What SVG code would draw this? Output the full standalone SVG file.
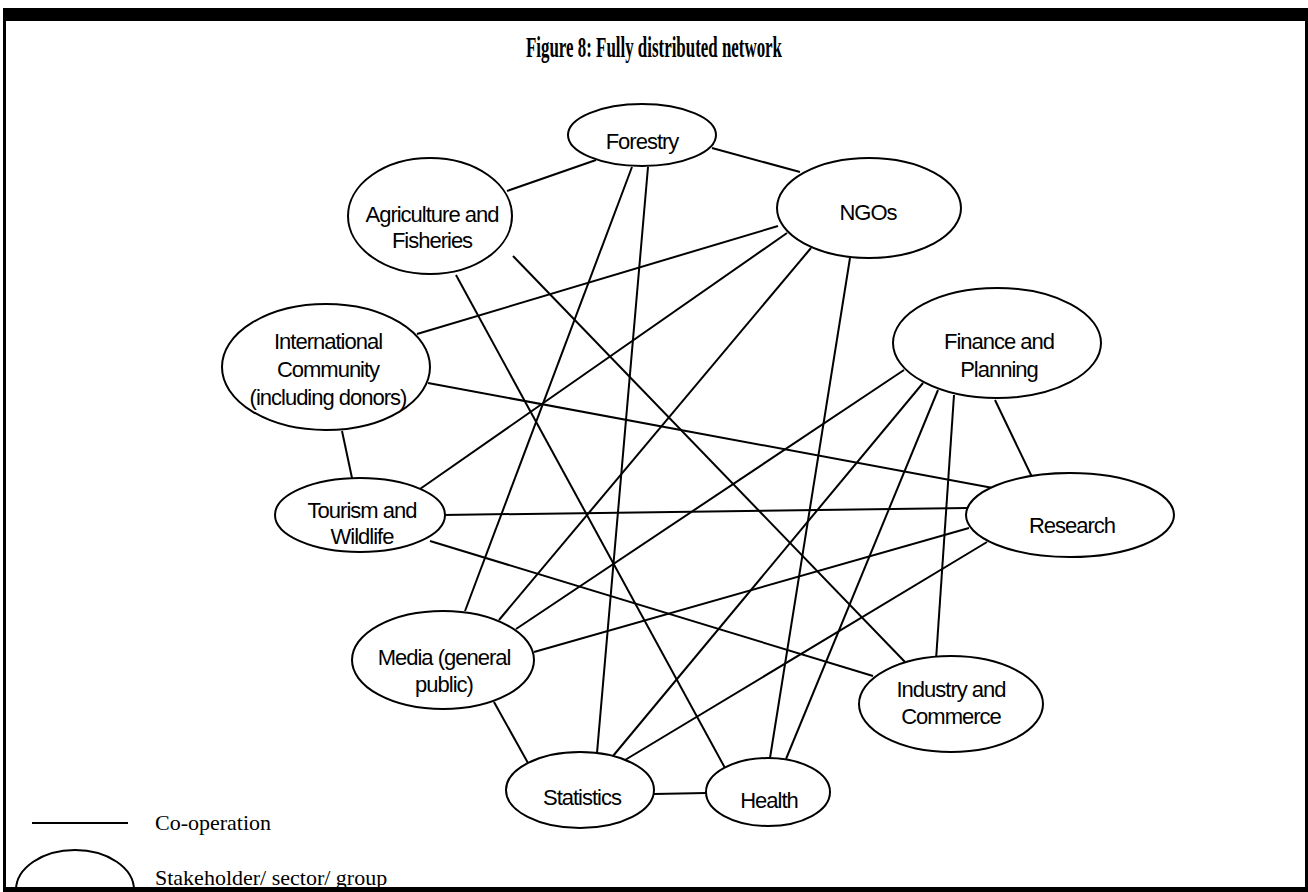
<svg xmlns="http://www.w3.org/2000/svg" width="1308" height="892" viewBox="0 0 1308 892">
<style>
.node ellipse{fill:#fff;stroke:#000;stroke-width:2}
.node text{font-family:"Liberation Sans",Arial,sans-serif;font-size:22px;letter-spacing:-1px;text-anchor:middle;fill:#000}
#connectors line{stroke:#000;stroke-width:2}
.legend{font-family:"Liberation Serif","Times New Roman",serif;font-size:22px;fill:#000}
</style>
<rect x="0" y="0" width="1308" height="892" fill="#fff"/>
<text x="654" y="57" text-anchor="middle" textLength="256" lengthAdjust="spacingAndGlyphs" style="font-family:'Liberation Serif','Times New Roman',serif;font-size:29px;font-weight:bold">Figure 8: Fully distributed network</text>
<g id="connectors">
<line x1="596" y1="160" x2="507" y2="191"/>
<line x1="712" y1="148" x2="800" y2="172"/>
<line x1="632" y1="167" x2="465" y2="611"/>
<line x1="648" y1="167" x2="597" y2="753"/>
<line x1="456" y1="275" x2="725" y2="768"/>
<line x1="513" y1="256" x2="905" y2="662"/>
<line x1="778" y1="226" x2="417" y2="334"/>
<line x1="787" y1="233" x2="420" y2="489"/>
<line x1="811" y1="248" x2="499" y2="620"/>
<line x1="850" y1="258" x2="770" y2="758"/>
<line x1="428" y1="383" x2="993" y2="488"/>
<line x1="342" y1="431" x2="352" y2="478"/>
<line x1="443" y1="515" x2="967" y2="508"/>
<line x1="430" y1="541" x2="873" y2="676"/>
<line x1="904" y1="370" x2="516" y2="629"/>
<line x1="923" y1="383" x2="613" y2="756"/>
<line x1="938" y1="390" x2="786" y2="759"/>
<line x1="954" y1="395" x2="936" y2="660"/>
<line x1="995" y1="400" x2="1032" y2="477"/>
<line x1="969" y1="528" x2="534" y2="652"/>
<line x1="987" y1="542" x2="625" y2="760"/>
<line x1="494" y1="702" x2="528" y2="763"/>
<line x1="654" y1="794" x2="706" y2="793"/>
</g>
<g id="forestry" class="node"><ellipse cx="642" cy="135" rx="74" ry="31"/><text x="642" y="149">Forestry</text></g>
<g id="agriculture" class="node"><ellipse cx="430" cy="216" rx="82" ry="58"/><text x="432" y="222">Agriculture and</text><text x="432" y="248">Fisheries</text></g>
<g id="ngos" class="node"><ellipse cx="869" cy="208" rx="92" ry="50"/><text x="868" y="220">NGOs</text></g>
<g id="international" class="node"><ellipse cx="326" cy="367" rx="104" ry="63"/><text x="328" y="349">International</text><text x="328" y="377">Community</text><text x="328" y="405">(including donors)</text></g>
<g id="finance" class="node"><ellipse cx="997" cy="343" rx="104" ry="55"/><text x="999" y="349">Finance and</text><text x="999" y="377">Planning</text></g>
<g id="research" class="node"><ellipse cx="1070" cy="515" rx="104" ry="42"/><text x="1072" y="533">Research</text></g>
<g id="tourism" class="node"><ellipse cx="360" cy="515" rx="85" ry="37"/><text x="362" y="518">Tourism and</text><text x="362" y="544">Wildlife</text></g>
<g id="media" class="node"><ellipse cx="443" cy="660" rx="91" ry="49"/><text x="444" y="665">Media (general</text><text x="444" y="692">public)</text></g>
<g id="industry" class="node"><ellipse cx="951" cy="704" rx="92" ry="48"/><text x="951" y="697">Industry and</text><text x="951" y="724">Commerce</text></g>
<g id="statistics" class="node"><ellipse cx="580" cy="790" rx="74" ry="38"/><text x="582" y="805">Statistics</text></g>
<g id="health" class="node"><ellipse cx="768" cy="792" rx="62" ry="34"/><text x="769" y="808">Health</text></g>
<g id="legend">
<line x1="32" y1="823" x2="128" y2="823" stroke="#000" stroke-width="2"/>
<text class="legend" x="155" y="830">Co-operation</text>
<ellipse cx="75" cy="890" rx="59" ry="40" fill="#fff" stroke="#000" stroke-width="2"/>
<text class="legend" x="155" y="885">Stakeholder/ sector/ group</text>
</g>
<g id="frame" fill="#000">
<rect x="3" y="8" width="1305" height="13"/>
<rect x="3" y="8" width="3" height="884"/>
<rect x="1305" y="8" width="3" height="884"/>
<rect x="3" y="887" width="1305" height="5"/>
</g>
</svg>
